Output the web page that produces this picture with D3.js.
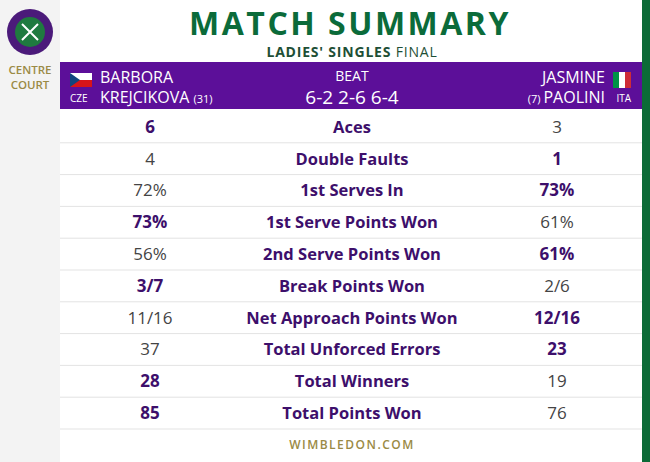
<!DOCTYPE html>
<html><head><meta charset="utf-8">
<script src="https://cdn.jsdelivr.net/npm/d3@7"></script>
<style>body{margin:0;background:#f2f2f2}svg{display:block}</style></head>
<body><svg id="c" width="650" height="462"></svg>
<script>
const categories = ["Aces","Double Faults","1st Serves In","1st Serve Points Won","2nd Serve Points Won","Break Points Won","Net Approach Points Won","Total Unforced Errors","Total Winners","Total Points Won"];
const krejcikova = ["6","4","72%","73%","56%","3/7","11/16","37","28","85"];
const paolini = ["3","1","73%","61%","61%","2/6","12/16","23","19","76"];
const leader = ["L","R","R","L","R","L","R","R","L","L"];

const svg = d3.select("#c");
const F = "'Open Sans', 'Noto Sans', sans-serif";
const purple = "#3d0f6b", gray = "#444", green = "#0b6b3a", gold = "#9a8a45";

svg.append("rect").attr("width",650).attr("height",462).attr("fill","#f3f3f3");
svg.append("rect").attr("x",60).attr("width",582).attr("height",462).attr("fill","#fff");
svg.append("rect").attr("x",642).attr("width",8).attr("height",462).attr("fill","#0c6b37");

// logo
const lg = svg.append("g").attr("transform","translate(30,32)");
lg.append("circle").attr("r",23).attr("fill","#4b1a7a");
lg.append("circle").attr("r",15).attr("fill","#1f7a3f");
lg.append("path").attr("d","M-8,-8 L8,8 M8,-8 L-8,8").attr("stroke","#fff").attr("stroke-width",2);
svg.append("text").attr("x",30).attr("y",74).attr("text-anchor","middle").attr("font-family",F).attr("font-weight",600).attr("font-size",11.5).attr("fill",gold).text("CENTRE");
svg.append("text").attr("x",30).attr("y",89).attr("text-anchor","middle").attr("font-family",F).attr("font-weight",600).attr("font-size",11.5).attr("fill",gold).text("COURT");

// title
svg.append("text").attr("x",350).attr("y",35).attr("text-anchor","middle").attr("font-family",F).attr("font-weight",700).attr("font-size",32).attr("letter-spacing",2.5).attr("fill",green).text("MATCH SUMMARY");
const st = svg.append("text").attr("x",352).attr("y",57).attr("text-anchor","middle").attr("font-family",F).attr("font-size",14).attr("letter-spacing",0.8).attr("fill","#1e4f36");
st.append("tspan").attr("font-weight",700).text("LADIES' SINGLES ");
st.append("tspan").attr("font-weight",400).text("FINAL");

// header bar
svg.append("rect").attr("x",60).attr("y",62).attr("width",582).attr("height",47).attr("fill","#5c0f99");
const hd = (x,y,t,s,a,w)=>svg.append("text").attr("x",x).attr("y",y).attr("text-anchor",a||"start").attr("font-family",F).attr("font-weight",w||500).attr("font-size",s).attr("fill","#fff").text(t);
// CZ flag
svg.append("rect").attr("x",70).attr("y",73).attr("width",22).attr("height",7).attr("fill","#fff");
svg.append("rect").attr("x",70).attr("y",80).attr("width",22).attr("height",7).attr("fill","#d7141a");
svg.append("path").attr("d","M70,73 L80,80 L70,87Z").attr("fill","#11457e");
hd(70,102,"CZE",10);
hd(100,83,"BARBORA",16);
const k = hd(100,103,"KREJCIKOVA ",16);
k.append("tspan").attr("font-size",11).text("(31)");
hd(352,81,"BEAT",14,"middle");
hd(352,104,"6-2 2-6 6-4",19,"middle");
// IT flag
[["#009246",0],["#fff",1],["#ce2b37",2]].forEach(([c,i])=>svg.append("rect").attr("x",613+i*6).attr("y",72).attr("width",6).attr("height",16).attr("fill",c));
hd(631,102,"ITA",10,"end");
hd(605,83,"JASMINE",16,"end");
const p = svg.append("text").attr("x",605).attr("y",103).attr("text-anchor","end").attr("font-family",F).attr("font-weight",500).attr("fill","#fff");
p.append("tspan").attr("font-size",11).text("(7) ");
p.append("tspan").attr("font-size",16).text("PAOLINI");

// rows
const y = d3.scaleBand().domain(categories).range([111,429]);
const rows = svg.selectAll("g.row").data(categories).join("g").attr("transform",d=>`translate(0,${y(d)})`);
rows.append("line").attr("x1",60).attr("x2",642).attr("y1",y.bandwidth()).attr("y2",y.bandwidth()).attr("stroke","#e3e3e3");
rows.append("text").attr("x",352).attr("y",y.bandwidth()/2+6).attr("text-anchor","middle").attr("font-family",F).attr("font-weight",700).attr("font-size",16.5).attr("fill",purple).text(d=>d);
rows.append("text").attr("x",150).attr("y",y.bandwidth()/2+6).attr("text-anchor","middle").attr("font-family",F)
  .attr("font-weight",(d,i)=>leader[i]==="L"?700:400).attr("font-size",17)
  .attr("fill",(d,i)=>leader[i]==="L"?purple:gray).text((d,i)=>krejcikova[i]);
rows.append("text").attr("x",557).attr("y",y.bandwidth()/2+6).attr("text-anchor","middle").attr("font-family",F)
  .attr("font-weight",(d,i)=>leader[i]==="R"?700:400).attr("font-size",17)
  .attr("fill",(d,i)=>leader[i]==="R"?purple:gray).text((d,i)=>paolini[i]);

svg.append("text").attr("x",352).attr("y",449).attr("text-anchor","middle").attr("font-family",F).attr("font-weight",600).attr("font-size",12).attr("letter-spacing",1.5).attr("fill",gold).text("WIMBLEDON.COM");
</script></body></html>
